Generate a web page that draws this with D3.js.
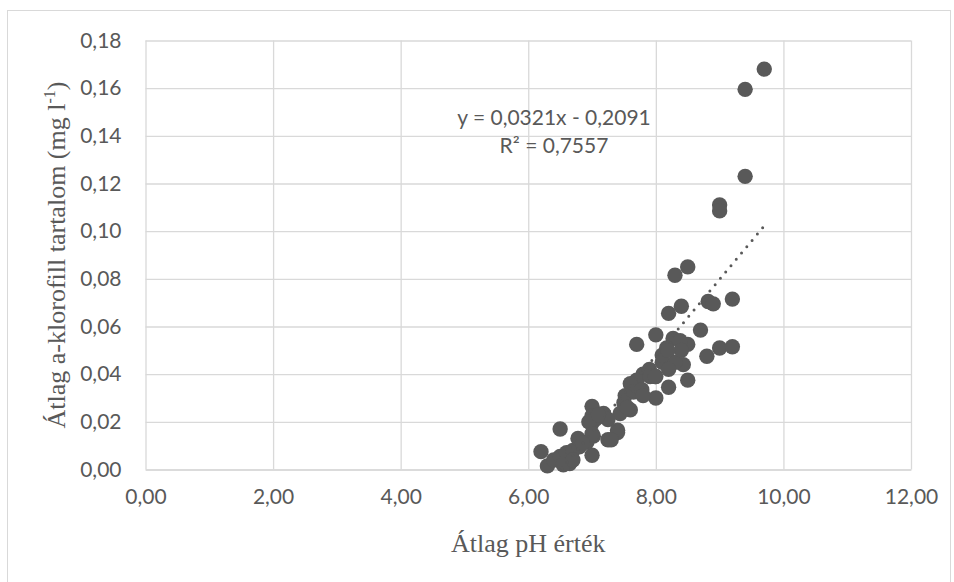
<!DOCTYPE html>
<html>
<head>
<meta charset="utf-8">
<script src="https://cdn.jsdelivr.net/npm/d3@7"></script>
<style>
  html, body { margin: 0; padding: 0; background: #fff; }
  svg { display: block; }
</style>
</head>
<body>
<svg id="chart" width="954" height="582"></svg>
<script>
// ---- data ----
const phValues = [
  9.70, 9.40, 9.40, 9.00, 9.00, 8.50, 8.30, 9.20, 8.82, 8.90,
  8.40, 8.20, 8.70, 8.00, 7.70, 8.50, 9.00, 9.20, 8.80, 8.27,
  8.38, 8.17, 8.43, 8.50, 8.20, 7.80, 7.90, 8.10, 8.30, 8.00,
  7.70, 7.60, 7.65, 7.78, 7.91, 8.00, 7.52, 7.50, 7.60, 7.44,
  7.00, 7.18, 7.25, 7.40, 7.40, 7.25, 7.30, 7.02, 7.00, 7.00,
  7.07, 6.95, 6.50, 6.20, 6.30, 7.00, 6.40, 6.50, 6.60, 6.70,
  6.80, 6.92, 6.78, 7.00, 6.65, 6.55, 6.70, 6.85, 7.10, 8.10,
  7.55, 7.80, 8.20, 8.40, 8.19, 7.99
];
const chlValues = [
  0.168, 0.1595, 0.123, 0.111, 0.1085, 0.085, 0.0815, 0.0715, 0.0705, 0.0695,
  0.0685, 0.0655, 0.0585, 0.0565, 0.0525, 0.0525, 0.051, 0.0515, 0.0475, 0.055,
  0.054, 0.051, 0.044, 0.0375, 0.0345, 0.040, 0.042, 0.045, 0.045, 0.030,
  0.0375, 0.036, 0.0325, 0.0335, 0.039, 0.039, 0.031, 0.028, 0.025, 0.0235,
  0.0265, 0.0235, 0.021, 0.0165, 0.0155, 0.0125, 0.0125, 0.014, 0.0195, 0.0225,
  0.0215, 0.020, 0.017, 0.0075, 0.0015, 0.006, 0.004, 0.0055, 0.007, 0.008,
  0.0095, 0.0115, 0.013, 0.015, 0.0025, 0.002, 0.004, 0.011, 0.023, 0.048,
  0.026, 0.031, 0.042, 0.050, 0.050, 0.039
];
const xTickValues = [0, 2, 4, 6, 8, 10, 12];
const xTickLabels = ["0,00", "2,00", "4,00", "6,00", "8,00", "10,00", "12,00"];
const yTickValues = [0, 0.02, 0.04, 0.06, 0.08, 0.10, 0.12, 0.14, 0.16, 0.18];
const yTickLabels = ["0,00", "0,02", "0,04", "0,06", "0,08", "0,10", "0,12", "0,14", "0,16", "0,18"];
const trendSlope = 0.0321;
const trendIntercept = -0.2091;
const equationText = "y = 0,0321x - 0,2091";
const r2Text = "R² = 0,7557";
const xTitle = "Átlag pH érték";
const yTitleMain = "Átlag a-klorofill tartalom (mg l";
const yTitleSup = "-1";
const yTitleEnd = ")";

// ---- layout ----
const svg = d3.select("#chart");
const pLeft = 145.5, pRight = 911, pTop = 40.5, pBottom = 469.5;
const x = d3.scaleLinear().domain([0, 12]).range([pLeft, pRight]);
const y = d3.scaleLinear().domain([0, 0.18]).range([pBottom, pTop]);
const gray = "#595959";
const gridColor = "#d9d9d9";

// outer chart border
svg.append("rect")
  .attr("x", 7.5).attr("y", 10.5).attr("width", 943).attr("height", 575)
  .attr("fill", "none").attr("stroke", gridColor).attr("stroke-width", 1);

// x grid + labels
const xAxis = d3.axisBottom(x)
  .tickValues(xTickValues)
  .tickFormat((d, i) => xTickLabels[i])
  .tickSizeInner(-(pBottom - pTop))
  .tickSizeOuter(0)
  .tickPadding(20);
const gx = svg.append("g").attr("transform", `translate(0,${pBottom})`).call(xAxis);
gx.select(".domain").attr("stroke", gridColor).attr("stroke-width", 1.3);
gx.selectAll(".tick line").attr("stroke", gridColor).attr("stroke-width", 1.3);
gx.selectAll(".tick text")
  .attr("fill", gray).attr("font-family", "Lato, sans-serif").attr("font-size", 21);

// y grid + labels
const yAxis = d3.axisLeft(y)
  .tickValues(yTickValues)
  .tickFormat((d, i) => yTickLabels[i])
  .tickSizeInner(-(pRight - pLeft))
  .tickSizeOuter(0)
  .tickPadding(24);
const gy = svg.append("g").attr("transform", `translate(${pLeft},0)`).call(yAxis);
gy.select(".domain").remove();
gy.selectAll(".tick line").attr("stroke", gridColor).attr("stroke-width", 1.3);
gy.selectAll(".tick text")
  .attr("fill", gray).attr("font-family", "Lato, sans-serif").attr("font-size", 21);

// clip
svg.append("clipPath").attr("id", "plotclip")
  .append("rect").attr("x", pLeft).attr("y", pTop).attr("width", pRight - pLeft).attr("height", pBottom - pTop);

// points
const pts = phValues.map((v, i) => ({ ph: v, chl: chlValues[i] }));
svg.append("g")
  .selectAll("circle")
  .data(pts)
  .join("circle")
  .attr("cx", d => x(d.ph))
  .attr("cy", d => y(d.chl))
  .attr("r", 7.7)
  .attr("fill", gray);

// trendline (dotted)
const xMin = d3.min(phValues), xMax = d3.max(phValues);
const trendPts = [xMin, xMax].map(v => [x(v), y(trendSlope * v + trendIntercept)]);
svg.append("path")
  .attr("clip-path", "url(#plotclip)")
  .attr("d", d3.line()(trendPts))
  .attr("fill", "none")
  .attr("stroke", gray)
  .attr("stroke-width", 3)
  .attr("stroke-linecap", "round")
  .attr("stroke-dasharray", "0 8.24");

// equation labels
svg.append("text")
  .attr("x", 554).attr("y", 125)
  .attr("text-anchor", "middle")
  .attr("font-family", "Lato, sans-serif").attr("font-size", 21)
  .attr("fill", gray)
  .text(equationText);
svg.append("text")
  .attr("x", 554).attr("y", 153)
  .attr("text-anchor", "middle")
  .attr("font-family", "Lato, sans-serif").attr("font-size", 21)
  .attr("fill", gray)
  .text(r2Text);

// axis titles
svg.append("text")
  .attr("x", (pLeft + pRight) / 2).attr("y", 552)
  .attr("text-anchor", "middle")
  .attr("font-family", "'Liberation Serif', 'Times New Roman', serif").attr("font-size", 26)
  .attr("fill", gray)
  .text(xTitle);

const yt = svg.append("text")
  .attr("transform", `translate(65,${(pTop + pBottom) / 2}) rotate(-90)`)
  .attr("text-anchor", "middle")
  .attr("font-family", "'Liberation Serif', 'Times New Roman', serif").attr("font-size", 26)
  .attr("fill", gray);
yt.append("tspan").text(yTitleMain);
yt.append("tspan").attr("font-size", 16).attr("dy", -10).text(yTitleSup);
yt.append("tspan").attr("dy", 10).text(yTitleEnd);
</script>
</body>
</html>
